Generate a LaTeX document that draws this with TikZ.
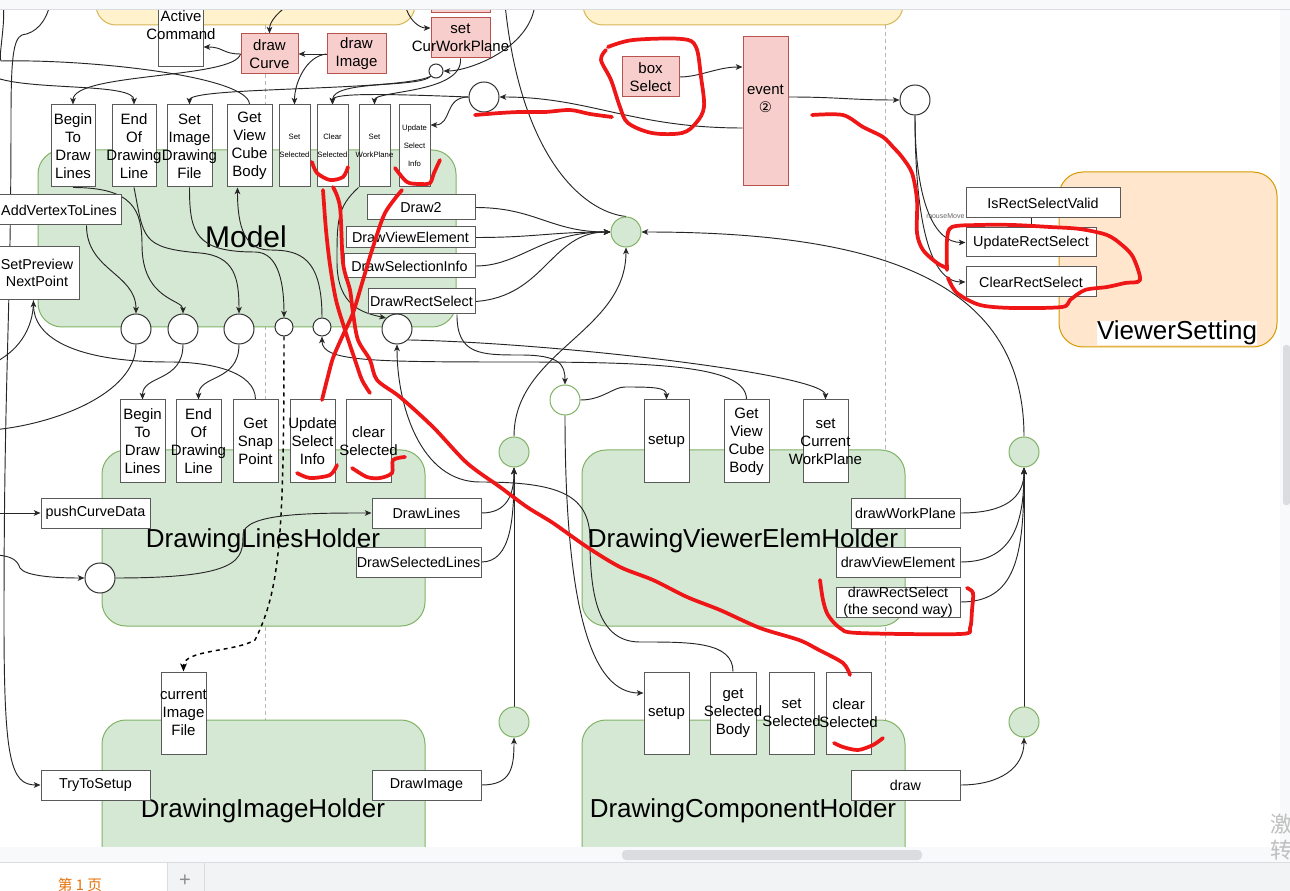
\documentclass[tikz,border=0pt]{standalone}
\usepackage{fontspec}
\setmainfont{Liberation Sans}
\newfontfamily\cjkfont{Noto Sans CJK SC}
\newfontfamily\dvfont{DejaVu Sans}
\usetikzlibrary{arrows.meta,calc}
\definecolor{gfill}{HTML}{D5E8D4}
\definecolor{gline}{HTML}{82B366}
\definecolor{yfill}{HTML}{FFF2CC}
\definecolor{yline}{HTML}{D6B656}
\definecolor{ofill}{HTML}{FFE6CC}
\definecolor{oline}{HTML}{D79B00}
\definecolor{pfill}{HTML}{F8CECC}
\definecolor{pline}{HTML}{B85450}
\definecolor{redpen}{RGB}{238,22,22}
\definecolor{uibar}{HTML}{F8F9FA}
\definecolor{uiline}{HTML}{DADCE0}
\definecolor{uitab}{HTML}{F1F3F4}
\definecolor{uiorange}{HTML}{E8710A}
\definecolor{boxline}{HTML}{5A5A5A}
\pgfdeclarelayer{lbg}
\pgfdeclarelayer{ledge}
\pgfdeclarelayer{lred}
\pgfdeclarelayer{lui}
\pgfsetlayers{lbg,ledge,main,lred,lui}
\newcommand\mkbox[8]{%
  \pgfmathsetmacro\bxw{(#6-#4)*0.75}%
  \pgfmathsetmacro\bxh{(#7-#5)*0.75}%
  \node[#1,minimum width=\bxw pt,minimum height=\bxh pt] (#3) at ({(#4+#6)/2},{(#5+#7)/2}) {};%
  \node[#2] (#3-t) at (#3.center) {#8};}
\newcommand\mkcirc[5]{%
  \pgfmathsetmacro\crd{#5*1.5}%
  \node[#1,minimum size=\crd pt] (#2) at (#3,#4) {};}
\tikzset{
 bx/.style={draw=boxline, fill=white, line width=0.75pt, inner sep=0pt},
 pbx/.style={draw=pline, fill=pfill, line width=0.75pt, inner sep=0pt},
 tx/.style={font=\fontsize{11.25}{13.5}\selectfont, align=center, inner sep=0pt},
 tw/.style={font=\fontsize{10.75}{12.75}\selectfont, align=center, inner sep=0pt},
 ts/.style={font=\fontsize{5.8}{13.5}\selectfont, align=center, inner sep=0pt},
 cc/.style={circle, draw=black!80, fill=white, line width=0.75pt, inner sep=0pt},
 gcc/.style={circle, draw=gline, fill=gfill, line width=0.75pt, inner sep=0pt},
 gocc/.style={circle, draw=gline, fill=white, line width=0.75pt, inner sep=0pt},
 gcont/.style={draw=gline, fill=gfill, rounded corners=18pt, line width=0.75pt, inner sep=0pt},
 ycont/.style={draw=yline, fill=yfill, rounded corners=15pt, line width=0.75pt, inner sep=0pt},
 ocont/.style={draw=oline, fill=ofill, rounded corners=18pt, line width=0.75pt, inner sep=0pt},
 big/.style={font=\fontsize{19.5}{22}\selectfont, inner sep=0pt, anchor=base},
 conn/.style={draw=black!85, line width=0.7pt},
 arr/.style={conn, -{Stealth[length=5pt,width=4.2pt,inset=1.3pt]}},
 dasharr/.style={draw=black, line width=1.1pt, dash pattern=on 3pt off 3pt, -{Stealth[length=6pt,width=5pt,inset=1.5pt]}},
 life/.style={draw=black!28, line width=0.75pt, dash pattern=on 3pt off 2.25pt},
 pen/.style={draw=redpen, line width=2.8pt, line cap=round, line join=round},
 nt/.style={inner sep=0pt}
}
\begin{document}
\begin{tikzpicture}[x=0.75pt,y=-0.75pt]
\useasboundingbox (0,0) rectangle (1290,891);
% ---------- background: lifelines and containers
\begin{pgfonlayer}{lbg}
\fill[white] (0,0) rectangle (1290,891);
\begin{scope}
\clip (0,0) rectangle (1290,891);
\draw[life] (265,25) -- (265,850);
\draw[life] (885,25) -- (885,850);
\mkbox{ycont}{nt}{yc1}{96}{-60}{415}{25}{}
\mkbox{ycont}{nt}{yc2}{583}{-60}{903}{25}{}
\mkbox{gcont}{nt}{model}{38}{150}{456}{327}{}
\mkbox{gcont}{nt}{dlh}{102}{450}{425}{626}{}
\mkbox{gcont}{nt}{dvh}{582}{450}{905}{626}{}
\mkbox{gcont}{nt}{dih}{102}{720}{425}{910}{}
\mkbox{gcont}{nt}{dch}{582}{720}{905}{910}{}
\mkbox{ocont}{nt}{vset}{1059}{172}{1277}{347}{}
\node[big,font=\fontsize{22.5}{25}\selectfont] (model-l) at (246,248) {Model};
\node[big] (dlh-l) at (263,547) {DrawingLinesHolder};
\node[big] (dvh-l) at (743,547) {DrawingViewerElemHolder};
\node[big] (dih-l) at (263,817) {DrawingImageHolder};
\node[big] (dch-l) at (743,817) {DrawingComponentHolder};
\node[big,fill=white] (vset-l) at (1177,340) {ViewerSetting};
\end{scope}
\end{pgfonlayer}
\begin{scope}
\clip (0,0) rectangle (1290,891);
% ---------- nodes
\mkbox{bx}{nt}{ac}{158}{-40}{203}{67}{}
\node[tx] (ac-l) at (181,25.5) {Active\\Command};
\mkbox{pbx}{tx}{dcv}{241}{34}{298}{74}{draw\\Curve}
\mkbox{pbx}{tx}{dim}{327}{34}{386}{74}{draw\\Image}
\mkbox{pbx}{nt}{ptop}{431}{-20}{490}{13}{}
\mkbox{pbx}{tx}{scwp}{431}{18}{490}{58}{set\\CurWorkPlane}
\mkbox{pbx}{tx}{bsel}{622}{57}{679}{97}{box\\Select}
\mkbox{pbx}{nt}{evt}{743}{37}{788}{186}{}
\node[tx] (evt-l) at (765.5,99) {event\\{\dvfont\fontsize{11}{13.5}\selectfont ②}};
\mkcirc{cc}{sc}{436}{71}{7}
\mkcirc{cc}{bc}{484}{97}{15}
\mkcirc{cc}{ec}{915}{100}{15}
% model row
\mkbox{bx}{tx}{m1}{51}{105}{95}{187}{Begin\\To\\Draw\\Lines}
\mkbox{bx}{tx}{m2}{112}{105}{156}{187}{End\\Of\\Drawing\\Line}
\mkbox{bx}{tx}{m3}{167}{105}{212}{187}{Set\\Image\\Drawing\\File}
\mkbox{bx}{tx}{m4}{227}{105}{272}{187}{Get\\View\\Cube\\Body}
\mkbox{bx}{ts}{m5}{279}{105}{310}{187}{Set\\Selected}
\mkbox{bx}{ts}{m6}{317}{105}{348}{187}{Clear\\Selected}
\mkbox{bx}{ts}{m7}{359}{105}{390}{187}{Set\\WorkPlane}
\mkbox{bx}{ts}{m8}{399}{105}{430}{187}{Update\\Select\\Info}
\mkbox{bx}{nt}{avl}{-12}{195}{121}{225}{}
\node[tw] (avl-l) at (59,210) {AddVertexToLines};
\mkbox{bx}{nt}{spn}{-12}{247}{79}{300}{}
\node[tw] (spn-l) at (37,273) {SetPreview\\NextPoint};
\mkbox{bx}{tw}{d2}{367}{195}{475}{220}{Draw2}
\mkbox{bx}{tw}{dve}{346}{227}{475}{248}{DrawViewElement}
\mkbox{bx}{tw}{dsi}{344}{254}{475}{278}{DrawSelectionInfo}
\mkbox{bx}{tw}{drs}{368}{289}{475}{314}{DrawRectSelect}
\mkcirc{cc}{c1}{136}{329}{15}
\mkcirc{cc}{c2}{183}{329}{15}
\mkcirc{cc}{c3}{239}{329}{15}
\mkcirc{cc}{c4}{284}{327}{9}
\mkcirc{cc}{c5}{322}{327}{9}
\mkcirc{cc}{c6}{397}{329}{15}
\mkcirc{gcc}{gc}{626}{232}{15}
% viewer setting
\mkbox{bx}{tw}{irs}{966}{188}{1120}{218}{IsRectSelectValid}
\mkbox{bx}{tw}{urs}{966}{228}{1096}{257}{UpdateRectSelect}
\mkbox{bx}{tw}{crs}{966}{267}{1096}{297}{ClearRectSelect}
\node[font=\fontsize{5.25}{6}\selectfont, text=black!60, inner sep=0pt, anchor=west] (mml) at (926,216) {mouseMove};
% second row
\mkcirc{gocc}{gg}{565}{400}{15}
\mkbox{bx}{tx}{l1}{120}{400}{165}{483}{Begin\\To\\Draw\\Lines}
\mkbox{bx}{tx}{l2}{176}{400}{221}{483}{End\\Of\\Drawing\\Line}
\mkbox{bx}{tx}{l3}{233}{400}{278}{483}{Get\\Snap\\Point}
\mkbox{bx}{tx}{l4}{290}{400}{335}{483}{Update\\Select\\Info}
\mkbox{bx}{tx}{l5}{346}{400}{391}{483}{clear\\Selected}
\mkbox{bx}{tx}{v1}{644}{400}{689}{483}{setup}
\mkbox{bx}{tx}{v2}{724}{400}{769}{483}{Get\\View\\Cube\\Body}
\mkbox{bx}{tx}{v3}{803}{400}{848}{483}{set\\Current\\WorkPlane}
\mkbox{bx}{tw}{pcd}{41}{498}{150}{528}{pushCurveData}
\mkbox{bx}{tw}{dl}{372}{498}{481}{528}{DrawLines}
\mkbox{bx}{tw}{dsl}{356}{547}{481}{577}{DrawSelectedLines}
\mkcirc{cc}{dlc}{100}{578}{15}
\mkcirc{gcc}{gL}{514}{452}{15}
\mkbox{bx}{tw}{dwp}{851}{498}{960}{528}{drawWorkPlane}
\mkbox{bx}{tw}{dvel}{836}{547}{960}{577}{drawViewElement}
\mkbox{bx}{nt}{drs2}{836}{587}{960}{617}{}
\node[tw] (drs2-l) at (898,602) {drawRectSelect\\(the second way)};
\mkcirc{gcc}{gR}{1024}{452}{15}
% bottom row
\mkbox{bx}{tx}{cif}{161}{672}{206}{754}{current\\Image\\File}
\mkbox{bx}{tw}{tts}{41}{770}{150}{800}{TryToSetup}
\mkbox{bx}{tw}{dimg}{372}{770}{481}{800}{DrawImage}
\mkcirc{gcc}{gL2}{514}{722}{15}
\mkbox{bx}{tx}{cs}{644}{672}{689}{754}{setup}
\mkbox{bx}{tx}{gsb}{710}{672}{756}{754}{get\\Selected\\Body}
\mkbox{bx}{tx}{ss}{769}{672}{814}{754}{set\\Selected}
\mkbox{bx}{tx}{cls}{826}{672}{871}{754}{clear\\Selected}
\mkbox{bx}{tw}{drw}{851}{770}{960}{800}{draw}
\mkcirc{gcc}{gR2}{1024}{722}{15}
\end{scope}
% ---------- connectors
\begin{pgfonlayer}{ledge}
\begin{scope}
\clip (0,0) rectangle (1290,891);
\coordinate (h47) at (0,47);
\coordinate (h28) at (0,28);
\coordinate (h67) at (0,67);
\coordinate (h97) at (0,97);
\coordinate (h125) at (0,125);
\coordinate (h128) at (0,128);
\coordinate (Lt1) at (-6,77);
\coordinate (Lt2) at (3,4);
\coordinate (Lt3) at (-8,364);
\coordinate (Lt4) at (-8,430);
\coordinate (Lt5) at (-8,513);
\coordinate (Lt6) at (-8,555);
\coordinate (Lt7) at (50,4);
\coordinate (Tt1) at (290,4);
\coordinate (Tt2) at (405,4);
\coordinate (Tt3) at (535,4);
\coordinate (Tt4) at (505,4);
\draw[arr] (dcv.west) .. controls +(-18,0) and +(20,0) .. (ac.east |- h47);
\draw[arr] (dim.west) -- (dcv.east);
\draw[arr] (dcv.west) .. controls +(-6,25) and +(0,-32) .. (m1.north);
\draw[arr] (Lt1) .. controls +(35,14) and +(0,-22) .. (m2.north);
\draw[conn] (m4.north) .. controls +(0,-28) and +(90,-2) .. (1,61) .. controls +(-3,-3) and +(3,18) .. (Lt2);
\draw[arr] (dim.west) .. controls +(-20,2) and +(0,-22) .. (m5.north);
\draw[arr] (scwp.south) .. controls +(3,35) and +(0,-14) .. (m7.north);
\draw[arr] (sc.south west) .. controls +(-12,12) and +(0,-25) .. (m6.north);
\draw[arr] (sc.south west) .. controls +(-30,15) and +(0,-18) .. (m3.north);
\draw[arr] (Tt3) .. controls +(-5,45) and +(25,0) .. (sc.east);
\draw[arr] (Tt1) .. controls +(-12,8) and +(0,-12) .. (dcv.north);
\draw[arr] (Tt2) .. controls +(3,15) and +(-12,0) .. (scwp.west |- h28);
\draw[arr] (bsel.east) .. controls +(20,0) and +(-25,0) .. (evt.west |- h67);
\draw[arr] (evt.east |- h97) .. controls +(50,0) and +(-50,0) .. (ec.west);
\draw[arr] (evt.west |- h128) .. controls +(-110,0) and +(90,0) .. (bc.east);
\draw[arr] (bc.west) .. controls +(-25,0) and +(22,0) .. (m8.east |- h125);
\draw[arr] (bc.west) .. controls +(-80,-3) and +(0,-12) .. (m6.north);
\draw[arr] ([xshift=24pt]avl.south) .. controls +(0,45) and +(0,-40) .. (c1.north);
\draw[arr] (m1.south) .. controls +(60,0) and +(0,-35) .. (142,245) .. controls +(0,55) and +(0,-14) .. (c2.north);
\draw[arr] (m2.south) .. controls +(10,50) and +(-60,-5) .. (200,253) .. controls +(35,3) and +(0,-35) .. (c3.north);
\draw[arr] (m3.south) .. controls +(0,45) and +(-60,0) .. (255,252) .. controls +(25,0) and +(0,-30) .. (c4.north);
\draw[arr] (c5.north) .. controls +(0,-60) and +(30,0) .. (270,250) .. controls +(-25,0) and +(0,40) .. ([xshift=-9pt]m4.south);
\draw[arr] (m7.south west) .. controls +(-22,20) and +(0,-40) .. (337,262) .. controls +(0,45) and +(-22,-5) .. (c6.north west);
\draw[arr] ([xshift=26.6pt]drs.south) .. controls +(0,40) and +(-40,0) .. (520,355) .. controls +(40,0) and +(0,-20) .. (gg.north);
\draw[arr] (c6.south east) .. controls +(150,3) and +(0,-25) .. (v3.north);
\draw[arr] (v2.north) .. controls +(0,-32) and +(150,0) .. (520,362) .. controls +(-150,0) and +(0,25) .. (c5.south);
\draw[arr] (l3.north) .. controls +(0,-28) and +(40,0) .. (170,362) .. controls +(-100,0) and +(0,35) .. (spn.south);
\draw[conn] (Lt3) .. controls +(25,-12) and +(0,30) .. (spn.south);
\draw[conn] (c1.south) .. controls +(0,50) and +(60,-5) .. (Lt4);
\draw[arr] (c2.south) .. controls +(0,38) and +(0,-25) .. (l1.north);
\draw[arr] (c3.south) .. controls +(0,38) and +(0,-25) .. (l2.north);
\draw[dasharr] (c4.south) .. controls +(0,200) and +(25,-50) .. (255,640) .. controls +(-20,12) and +(0,-22) .. (cif.north);
\draw[arr] (gg.east) .. controls +(22,0) and +(-12,0) .. (625,387) .. controls +(30,0) and +(0,-12) .. (v1.north);
\draw[arr] (gg.south) .. controls +(0,200) and +(-50,0) .. ([yshift=15pt]cs.west);
\draw[arr] (gsb.north) .. controls +(0,-30) and +(50,0) .. (640,642) .. controls +(-40,0) and +(0,60) .. (590,540) .. controls +(0,-45) and +(80,0) .. (480,482) .. controls +(-60,0) and +(0,60) .. (c6.south);
\draw[arr] (d2.east) .. controls +(60,0) and +(-60,0) .. (gc.west);
\draw[arr] (dve.east) .. controls +(60,0) and +(-60,0) .. (gc.west);
\draw[arr] (dsi.east) .. controls +(45,0) and +(-70,0) .. (gc.west);
\draw[arr] (drs.east) .. controls +(70,-5) and +(-60,0) .. (gc.west);
\draw[conn] (Tt4) .. controls +(15,150) and +(-45,-5) .. (gc.north);
\draw[arr] (gL.north) .. controls +(0,-85) and +(0,85) .. (gc.south);
\draw[arr] (gR.north) .. controls +(0,-150) and +(250,0) .. (gc.east);
\draw[arr] (ec.south) .. controls +(0,90) and +(-30,0) .. (urs.west);
\draw[arr] (ec.south) .. controls +(0,125) and +(-30,0) .. (crs.west);
\draw[conn] (urs.north) -- (urs.north |- irs.south);
\draw[arr] (Lt5) -- (pcd.west);
\draw[arr] (Lt6) .. controls +(15,0) and +(-3,-10) .. (20,568) .. controls +(5,8) and +(-30,0) .. (dlc.west);
\draw[arr] (dlc.east) .. controls +(125,0) and +(0,25) .. (243,535) .. controls +(0,-22) and +(-60,0) .. (dl.west);
\draw[arr] (dl.east) .. controls +(25,0) and +(0,28) .. (gL.south);
\draw[arr] (dsl.east) .. controls +(30,0) and +(0,50) .. (gL.south);
\draw[arr] (gL2.north) -- (gL.south);
\draw[arr] (dimg.east) .. controls +(30,0) and +(0,30) .. (gL2.south);
\draw[arr] (dwp.east) .. controls +(45,0) and +(0,30) .. (gR.south);
\draw[arr] (dvel.east) .. controls +(50,0) and +(0,60) .. (gR.south);
\draw[arr] (drs2.east) .. controls +(55,0) and +(0,90) .. (gR.south);
\draw[arr] (gR2.north) -- (gR.south);
\draw[arr] (drw.east) .. controls +(40,0) and +(0,30) .. (gR2.south);
\draw[arr] (Lt7) .. controls +(-4,18) and +(14,-2) .. (22,35) .. controls +(-9,4) and +(0,-60) .. (11,120) .. controls +(0,200) and +(0,-250) .. (4,620) .. controls +(0,140) and +(-30,0) .. (tts.west);
\end{scope}
\end{pgfonlayer}
% ---------- red pen
\begin{pgfonlayer}{lred}
\draw[pen] plot[smooth,tension=0.55] coordinates {(608,47) (633,40) (682,39) (696,47) (701,77) (704,107) (696,123) (682,133) (652,133) (628,123) (620,107) (611,80) (601,60) (606,50)};
\draw[pen] plot[smooth,tension=0.5] coordinates {(475,115) (500,113) (520,112) (545,112) (570,110) (590,114) (612,117)};
\draw[pen] plot[smooth,tension=0.5] coordinates {(812,115) (843,115) (863,127) (883,137) (893,147) (902,157) (912,173) (917,200) (917,233) (923,250) (937,263) (947,268)};
\draw[pen] plot[smooth,tension=0.5] coordinates {(947,270) (947,240) (952,227) (980,225) (1013,225) (1050,227) (1080,229) (1107,235) (1122,245) (1133,257) (1140,280) (1125,283) (1107,287) (1085,290) (1070,300) (1062,307) (1013,308) (980,305) (957,293) (948,278)};
\draw[pen] plot[smooth,tension=0.5] coordinates {(312,162) (317,173) (330,180) (343,177) (348,167)};
\draw[pen] plot[smooth,tension=0.5] coordinates {(395,168) (407,182) (420,184) (430,183) (434,173) (440,160)};
\draw[pen] plot[smooth,tension=0.5] coordinates {(323,190) (326,230) (330,265) (336,300) (345,330) (355,360) (362,380) (370,393)};
\draw[pen] plot[smooth,tension=0.5] coordinates {(402,190) (385,213) (373,247) (363,280) (353,313) (343,335) (333,358) (327,380) (322,400)};
\draw[pen] plot[smooth,tension=0.5] coordinates {(333,187) (340,207) (343,263) (350,290) (353,313) (358,340) (370,360) (377,380) (400,397) (433,427) (467,463) (500,487) (527,507) (553,523) (587,547) (620,567) (653,580) (687,597) (720,610) (760,628) (799,640) (819,650) (843,663) (850,675)};
\draw[pen] plot[smooth,tension=0.5] coordinates {(297,473) (310,478) (330,475) (337,465)};
\draw[pen] plot[smooth,tension=0.5] coordinates {(352,468) (367,477) (380,478) (392,473) (393,460) (405,457)};
\draw[pen] plot[smooth,tension=0.5] coordinates {(820,580) (823,600) (828,615) (840,628) (858,633) (960,634) (970,628) (972,610) (973,593) (967,588)};
\draw[pen] plot[smooth,tension=0.5] coordinates {(834,743) (843,747) (858,750) (873,745) (883,738)};
\end{pgfonlayer}
% ---------- UI chrome
\begin{pgfonlayer}{lui}
\begin{scope}
\clip (0,0) rectangle (1290,891);
\fill[uibar] (0,0) rectangle (1290,9);
\draw[uiline] (0,9.5) -- (1290,9.5);
\fill[uibar] (1280,10) rectangle (1290,847);
\fill[uiline, rounded corners=2pt] (1283,345) rectangle (1290,505);
\node[font=\cjkfont\fontsize{16.5}{18}\selectfont, text=black!25, inner sep=0pt, anchor=west] (wm1) at (1270,824) {激};
\fill[uibar] (0,847) rectangle (1290,862);
\fill[uiline, rounded corners=3pt] (622,850) rectangle (922,860);
\node[font=\cjkfont\fontsize{16.5}{18}\selectfont, text=black!25, inner sep=0pt, anchor=west] (wm2) at (1270,850) {转};
\draw[uiline] (0,862.5) -- (1290,862.5);
\fill[uitab] (0,863) rectangle (1290,891);
\fill[white] (0,863) rectangle (167,891);
\draw[uiline] (167,863) -- (167,891);
\draw[uiline] (204,863) -- (204,891);
\node[font=\fontsize{15}{15}\selectfont, text=black!45, inner sep=0pt] (plus) at (185,881) {+};
\node[font=\cjkfont\fontsize{11}{12}\selectfont, text=uiorange, inner sep=0pt, anchor=north] (tab) at (80,878) {第 1 页};
\end{scope}
\end{pgfonlayer}
\end{tikzpicture}
\end{document}
